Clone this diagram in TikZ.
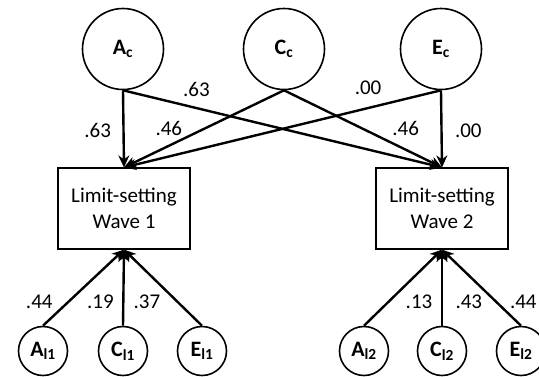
\documentclass[tikz,border=0pt]{standalone}
\usepackage{fontspec}
\setmainfont{Carlito}
\usetikzlibrary{arrows.meta,positioning}

\begin{document}
\begin{tikzpicture}[
  x=1pt, y=-1pt,
  font=\fontsize{21}{26}\selectfont,
  latent/.style={draw, circle, line width=1.6pt, minimum size=81pt, inner sep=0pt, font=\fontsize{22}{26}\selectfont\bfseries},
  specific/.style={latent, minimum size=49pt, font=\fontsize{22}{24}\selectfont\bfseries},
  measure/.style={draw, line width=1.2pt, minimum width=132pt, minimum height=81pt, align=center},
  path/.style={-{Stealth[length=12pt,width=11pt]}, line width=2.4pt}
]
\useasboundingbox (0,0) rectangle (539,376);

% Nodes
\node[latent] (Ac) at (123,49)  {A\textsubscript{c}};
\node[latent] (Cc) at (284,49)  {C\textsubscript{c}};
\node[latent] (Ec) at (441,49)  {E\textsubscript{c}};
\node[measure] (wave1) at (124,208.5) {Limit-setting\\ Wave 1};
\node[measure] (wave2) at (442,208.5) {Limit-setting\\ Wave 2};
\node[specific] (Al1) at (43,351)  {A\textsubscript{l1}};
\node[specific] (Cl1) at (123,351) {C\textsubscript{l1}};
\node[specific] (El1) at (202,351) {E\textsubscript{l1}};
\node[specific] (Al2) at (364,351) {A\textsubscript{l2}};
\node[specific] (Cl2) at (442,351) {C\textsubscript{l2}};
\node[specific] (El2) at (521,351) {E\textsubscript{l2}};

% Common paths
\draw[path] (Ac.south) -- node[pos=0.52, left=8pt]{.63} (wave1.north);
\draw[path] (Ac.south) -- node[pos=0.23, above=7pt]{.63} (wave2.north);
\draw[path] (Cc.south) -- node[pos=0.72, above=6pt]{.46} (wave1.north);
\draw[path] (Cc.south) -- node[pos=0.77, above=9pt]{.46} (wave2.north);
\draw[path] (Ec.south) -- node[pos=0.23, above=9pt]{.00} (wave1.north);
\draw[path] (Ec.south) -- node[pos=0.52, right=9pt]{.00} (wave2.north);

% Specific paths
\draw[path] (Al1.north) -- node[pos=0.31, left=11pt]{.44} (wave1.south);
\draw[path] (Cl1.north) -- node[pos=0.31, left=5pt]{.19} (wave1.south);
\draw[path] (El1.north) -- node[pos=0.31, left=13pt]{.37} (wave1.south);
\draw[path] (Al2.north) -- node[pos=0.31, right=13pt]{.13} (wave2.south);
\draw[path] (Cl2.north) -- node[pos=0.31, right=9pt]{.43} (wave2.south);
\draw[path] (El2.north) -- node[pos=0.31, right=9pt]{.44} (wave2.south);

\end{tikzpicture}
\end{document}
